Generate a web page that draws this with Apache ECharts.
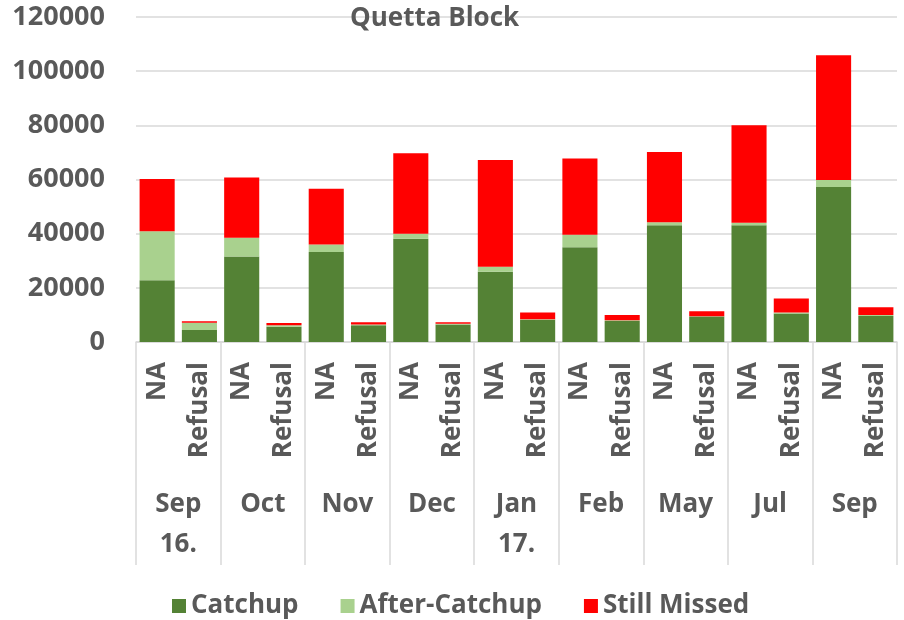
<!DOCTYPE html>
<html>
<head>
<meta charset="utf-8">
<script src="https://cdn.jsdelivr.net/npm/echarts@6/dist/echarts.min.js"></script>
<style>
  html, body { margin: 0; padding: 0; background: #fff; }
  #chart { width: 904px; height: 620px; }
</style>
</head>
<body>
<div id="chart"></div>
<script>
// months (outer axis level) and the two bars in each month
const months = ['Sep\n16.', 'Oct', 'Nov', 'Dec', 'Jan\n17.', 'Feb', 'May', 'Jul', 'Sep'];
const kinds = ['NA', 'Refusal'];

// stacked values: NA, Refusal pairs per month
const catchup      = [22800, 4400, 31600, 5600, 33200, 6200, 38100, 6500, 25900, 8200, 35000, 7800, 43100, 9400, 43100, 10500, 57200, 9600];
const afterCatchup = [18100, 2700, 6900, 600, 2800, 300, 1900, 200, 1900, 200, 4600, 200, 1100, 100, 900, 400, 2600, 400];
const stillMissed  = [19300, 600, 22200, 800, 20600, 800, 29700, 600, 39400, 2500, 28200, 2000, 26000, 1900, 36000, 5200, 46100, 2800];

const yTicks = { min: 0, max: 120000, interval: 20000 };

const txt = '#595959';
const font = 'Open Sans';
const cats = months.flatMap(() => kinds);

const chart = echarts.init(document.getElementById('chart'));

const bar = (name, data, color) => ({
  name, type: 'bar', stack: 'all', data, xAxisIndex: 0,
  barCategoryGap: '17%',
  itemStyle: { color },
  emphasis: { disabled: true }
});

const lbl = (size) => ({ color: txt, fontFamily: font, fontWeight: 'bold', fontSize: size });

chart.setOption({
  animation: false,
  backgroundColor: '#fff',
  textStyle: { fontFamily: font },
  title: {
    text: 'Quetta Block', left: 345, top: 1,
    textStyle: lbl(26)
  },
  legend: {
    left: 167, top: 588, itemWidth: 14, itemHeight: 14, itemGap: 42, icon: 'rect',
    textStyle: lbl(26)
  },
  grid: { left: 136, right: 7, top: 17, bottom: 278 },
  xAxis: [
    {
      type: 'category', data: cats,
      axisLine: { lineStyle: { color: '#d9d9d9', width: 1.5 } },
      axisTick: { show: false },
      axisLabel: { rotate: 90, margin: 20, interval: 0, ...lbl(26) }
    },
    {
      type: 'category', data: months, position: 'bottom',
      axisLine: { show: false },
      axisTick: { show: true, interval: 0, length: 223, lineStyle: { color: '#d9d9d9', width: 1.5 } },
      axisLabel: { margin: 143, interval: 0, lineHeight: 40, ...lbl(26) }
    }
  ],
  yAxis: {
    type: 'value', ...yTicks,
    axisLine: { show: false }, axisTick: { show: false },
    splitLine: { lineStyle: { color: '#d9d9d9', width: 1.5 } },
    axisLabel: { margin: 31, formatter: (v) => String(v), ...lbl(27) }
  },
  series: [
    bar('Catchup', catchup, '#548235'),
    bar('After-Catchup', afterCatchup, '#a9d18e'),
    bar('Still Missed', stillMissed, '#ff0000')
  ]
});
</script>
</body>
</html>
